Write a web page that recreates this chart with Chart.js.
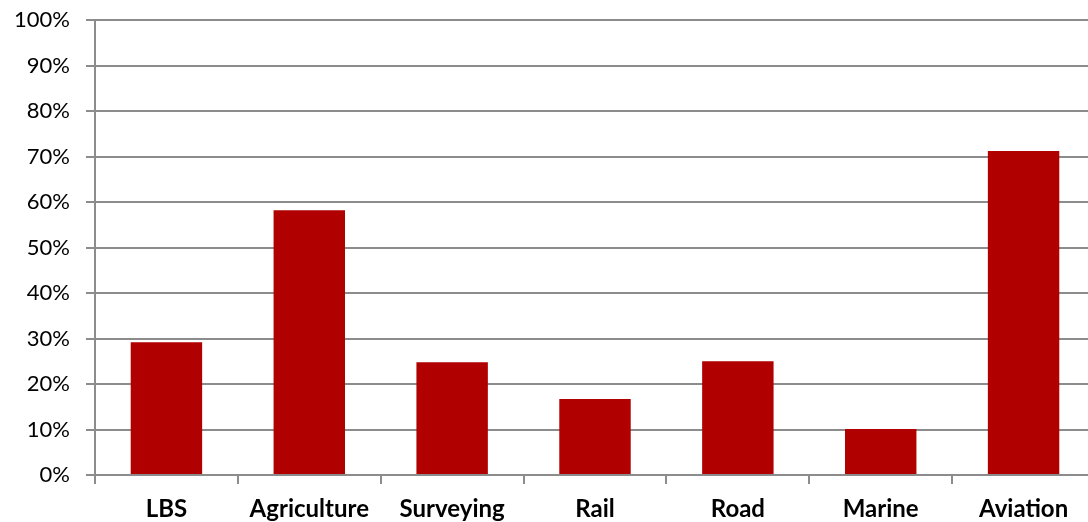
<!DOCTYPE html>
<html>
<head>
<meta charset="utf-8">
<script src="https://cdn.jsdelivr.net/npm/chart.js@4"></script>
<style>
  html, body { margin: 0; padding: 0; background: #fff; overflow: hidden; }
  #wrap { position: absolute; left: 0; top: 0; width: 1095px; height: 522px; }
</style>
</head>
<body>
<div id="wrap"><canvas id="chart1"></canvas></div>
<script>
var categories = ['LBS', 'Agriculture', 'Surveying', 'Rail', 'Road', 'Marine', 'Aviation'];
var shares = [29.2, 58.2, 24.8, 16.7, 25.0, 10.1, 71.2];
var yTicks = [0, 10, 20, 30, 40, 50, 60, 70, 80, 90, 100];

var barColor = '#b00000';
var gridColor = '#8c8c8c';

var ctx = document.getElementById('chart1').getContext('2d');
var myChart1 = new Chart(ctx, {
  type: 'bar',
  data: {
    labels: categories,
    datasets: [{
      label: 'Share',
      data: shares,
      backgroundColor: barColor,
      borderWidth: 0,
      barPercentage: 0.5,
      categoryPercentage: 1.0
    }]
  },
  options: {
    responsive: true,
    maintainAspectRatio: false,
    animation: false,
    layout: { padding: { top: 20, right: 0, left: 0, bottom: 0 } },
    plugins: {
      legend: { display: false },
      tooltip: { enabled: false }
    },
    scales: {
      x: {
        offset: true,
        grid: {
          offset: true,
          drawOnChartArea: false,
          color: gridColor,
          lineWidth: 2,
          tickLength: 9
        },
        border: { color: gridColor, width: 2 },
        ticks: {
          color: '#000',
          padding: 11,
          font: { family: 'Lato', size: 24, weight: 'bold' },
          maxRotation: 0,
          autoSkip: false
        },
        afterFit: function (scale) {
          scale.height = 47;
          scale.paddingLeft = 0;
          scale.paddingRight = 0;
        }
      },
      y: {
        min: 0,
        max: 100,
        afterBuildTicks: function (scale) {
          scale.ticks = yTicks.map(function (v) { return { value: v }; });
        },
        grid: {
          color: gridColor,
          lineWidth: 2,
          tickLength: 9
        },
        border: { color: gridColor, width: 2 },
        ticks: {
          color: '#000',
          padding: 16,
          font: { family: 'Lato', size: 22 },
          callback: function (v) { return v + '%'; }
        },
        afterFit: function (scale) {
          scale.width = 95;
          scale.paddingTop = 0;
          scale.paddingBottom = 0;
        }
      }
    }
  }
});
</script>
</body>
</html>
